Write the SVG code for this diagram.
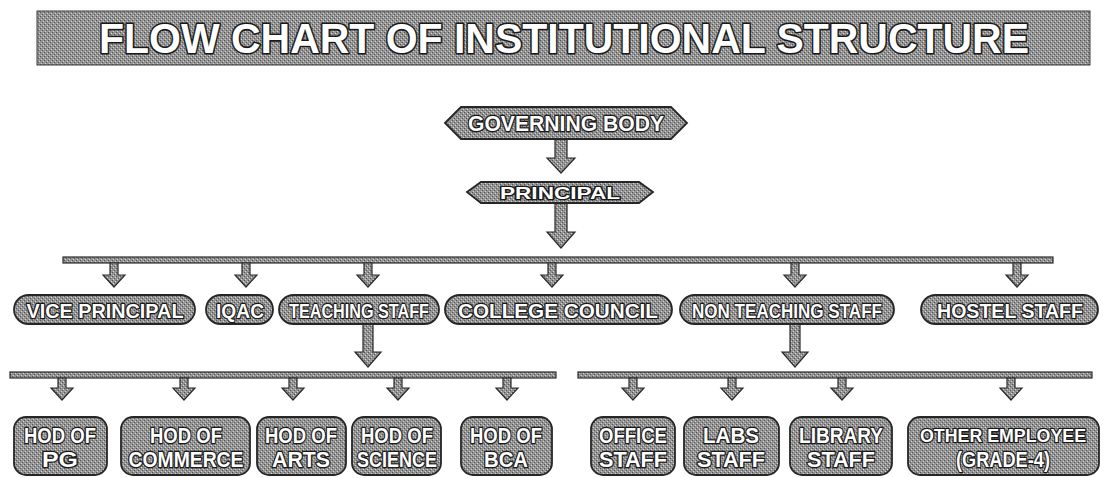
<svg xmlns="http://www.w3.org/2000/svg" width="1104" height="478" viewBox="0 0 1104 478">
  <defs>
    <!-- halftone grey used for every filled shape -->
    <pattern id="tone" patternUnits="userSpaceOnUse" width="4" height="4">
      <rect width="4" height="4" fill="#939393"/>
      <rect x="0" y="0" width="1" height="1" fill="#555555"/>
      <rect x="2" y="2" width="1" height="1" fill="#555555"/>
      <rect x="1" y="3" width="1" height="1" fill="#d4d4d4"/>
      <rect x="3" y="1" width="1" height="1" fill="#d4d4d4"/>
    </pattern>
    <style>
      .shape { fill: url(#tone); stroke: #262626; stroke-width: 1.8; }
      .bar { fill: url(#tone); stroke: #2a2a2a; stroke-width: 1.2; }
      .arrow { fill: url(#tone); stroke: #2a2a2a; stroke-width: 1.2; stroke-linejoin: miter; }
      .lbl { font-family: "Liberation Sans Narrow", "Liberation Sans", Arial, sans-serif; font-weight: bold;
             fill: #ffffff; stroke: #1a1a1a; stroke-width: 2.6; paint-order: stroke; stroke-linejoin: round;
             text-anchor: middle; }
      .title { font-size: 43px; stroke-width: 3.2; }
      .hex { font-size: 22px; }
      .small { font-size: 17px; }
      .pill { font-size: 21px; }
      .box { font-size: 22px; }
      .boxnarrow { font-size: 19px; }
    </style>
  </defs>

  <rect width="1104" height="478" fill="#ffffff"/>

  <!-- heading band -->
  <g id="title">
    <rect x="37" y="11" width="1053" height="54" fill="url(#tone)" stroke="#3a3a3a" stroke-width="1"/>
    <text class="lbl title" x="564" y="53" textLength="930" lengthAdjust="spacingAndGlyphs">FLOW CHART OF INSTITUTIONAL STRUCTURE</text>
  </g>

  <!-- connectors: bars and block arrows -->
  <g id="connectors">
    <!-- governing body -> principal -->
    <path class="arrow" d="M555,139 H567 V158 H575 L561,173 L547,158 H555 Z"/>
    <!-- principal -> main bar -->
    <path class="arrow" d="M555,203 H567 V232 H575 L561,248 L547,232 H555 Z"/>
    <!-- main distribution bar -->
    <rect class="bar" x="63" y="257" width="990" height="6"/>
    <path class="arrow" d="M110,263 H118 V275 H125 L114,287 L103,275 H110 Z"/>
    <path class="arrow" d="M242,263 H250 V275 H257 L246,287 L235,275 H242 Z"/>
    <path class="arrow" d="M364,263 H372 V275 H379 L368,287 L357,275 H364 Z"/>
    <path class="arrow" d="M548,263 H556 V275 H563 L552,287 L541,275 H548 Z"/>
    <path class="arrow" d="M791,263 H799 V275 H806 L795,287 L784,275 H791 Z"/>
    <path class="arrow" d="M1013,263 H1021 V275 H1028 L1017,287 L1006,275 H1013 Z"/>
    <!-- teaching staff -> departments -->
    <path class="arrow" d="M363,324 H373 V352 H381 L368,367 L355,352 H363 Z"/>
    <rect class="bar" x="10" y="372" width="546" height="6"/>
    <path class="arrow" d="M58,378 H66 V388 H73 L62,400 L51,388 H58 Z"/>
    <path class="arrow" d="M180,378 H188 V388 H195 L184,400 L173,388 H180 Z"/>
    <path class="arrow" d="M289,378 H297 V388 H304 L293,400 L282,388 H289 Z"/>
    <path class="arrow" d="M394,378 H402 V388 H409 L398,400 L387,388 H394 Z"/>
    <path class="arrow" d="M503,378 H511 V388 H518 L507,400 L496,388 H503 Z"/>
    <!-- non teaching staff -> support units -->
    <path class="arrow" d="M790,324 H800 V352 H808 L795,367 L782,352 H790 Z"/>
    <rect class="bar" x="578" y="372" width="514" height="6"/>
    <path class="arrow" d="M629,378 H637 V388 H644 L633,400 L622,388 H629 Z"/>
    <path class="arrow" d="M728,378 H736 V388 H743 L732,400 L721,388 H728 Z"/>
    <path class="arrow" d="M838,378 H846 V388 H853 L842,400 L831,388 H838 Z"/>
    <path class="arrow" d="M1007,378 H1015 V388 H1022 L1011,400 L1000,388 H1007 Z"/>
  </g>

  <!-- top of the hierarchy -->
  <g id="governing-body">
    <polygon class="shape" points="445,123 461,107 671,107 687,123 671,139 461,139"/>
    <text class="lbl hex" x="566" y="131" textLength="196" lengthAdjust="spacingAndGlyphs">GOVERNING BODY</text>
  </g>
  <g id="principal">
    <polygon class="shape" points="467,192 481,182 639,182 653,192 639,203 481,203"/>
    <text class="lbl small" x="560" y="199" textLength="120" lengthAdjust="spacingAndGlyphs">PRINCIPAL</text>
  </g>

  <!-- second level -->
  <g id="vice-principal">
    <rect class="shape" x="14" y="295" width="181" height="29" rx="14.5"/>
    <text class="lbl pill" x="105" y="318" textLength="157" lengthAdjust="spacingAndGlyphs">VICE PRINCIPAL</text>
  </g>
  <g id="iqac">
    <rect class="shape" x="206" y="295" width="67" height="29" rx="14.5"/>
    <text class="lbl pill" x="240" y="318" textLength="48" lengthAdjust="spacingAndGlyphs">IQAC</text>
  </g>
  <g id="teaching-staff">
    <rect class="shape" x="279" y="295" width="160" height="29" rx="14.5"/>
    <text class="lbl pill" x="359" y="318" textLength="140" lengthAdjust="spacingAndGlyphs">TEACHING STAFF</text>
  </g>
  <g id="college-council">
    <rect class="shape" x="445" y="295" width="227" height="29" rx="14.5"/>
    <text class="lbl pill" x="558" y="318" textLength="200" lengthAdjust="spacingAndGlyphs">COLLEGE COUNCIL</text>
  </g>
  <g id="non-teaching-staff">
    <rect class="shape" x="680" y="295" width="214" height="29" rx="14.5"/>
    <text class="lbl pill" x="787" y="318" textLength="190" lengthAdjust="spacingAndGlyphs">NON TEACHING STAFF</text>
  </g>
  <g id="hostel-staff">
    <rect class="shape" x="921" y="295" width="177" height="29" rx="14.5"/>
    <text class="lbl pill" x="1010" y="318" textLength="146" lengthAdjust="spacingAndGlyphs">HOSTEL STAFF</text>
  </g>

  <!-- departments -->
  <g id="hod-pg">
    <rect class="shape" x="14" y="417" width="93" height="58" rx="12"/>
    <text class="lbl box" x="60" y="443" textLength="72" lengthAdjust="spacingAndGlyphs">HOD OF</text>
    <text class="lbl box" x="60" y="467" textLength="36" lengthAdjust="spacingAndGlyphs">PG</text>
  </g>
  <g id="hod-commerce">
    <rect class="shape" x="121" y="417" width="129" height="58" rx="12"/>
    <text class="lbl box" x="186" y="443" textLength="72" lengthAdjust="spacingAndGlyphs">HOD OF</text>
    <text class="lbl box" x="186" y="467" textLength="115" lengthAdjust="spacingAndGlyphs">COMMERCE</text>
  </g>
  <g id="hod-arts">
    <rect class="shape" x="257" y="417" width="89" height="58" rx="12"/>
    <text class="lbl box" x="301" y="443" textLength="72" lengthAdjust="spacingAndGlyphs">HOD OF</text>
    <text class="lbl box" x="301" y="467" textLength="58" lengthAdjust="spacingAndGlyphs">ARTS</text>
  </g>
  <g id="hod-science">
    <rect class="shape" x="352" y="417" width="89" height="58" rx="12"/>
    <text class="lbl box" x="397" y="443" textLength="72" lengthAdjust="spacingAndGlyphs">HOD OF</text>
    <text class="lbl box" x="397" y="467" textLength="80" lengthAdjust="spacingAndGlyphs">SCIENCE</text>
  </g>
  <g id="hod-bca">
    <rect class="shape" x="461" y="417" width="91" height="58" rx="12"/>
    <text class="lbl box" x="506" y="443" textLength="72" lengthAdjust="spacingAndGlyphs">HOD OF</text>
    <text class="lbl box" x="506" y="467" textLength="44" lengthAdjust="spacingAndGlyphs">BCA</text>
  </g>

  <!-- support units -->
  <g id="office-staff">
    <rect class="shape" x="591" y="417" width="84" height="58" rx="12"/>
    <text class="lbl box" x="633" y="443" textLength="68" lengthAdjust="spacingAndGlyphs">OFFICE</text>
    <text class="lbl box" x="633" y="467" textLength="68" lengthAdjust="spacingAndGlyphs">STAFF</text>
  </g>
  <g id="labs-staff">
    <rect class="shape" x="684" y="417" width="95" height="58" rx="12"/>
    <text class="lbl box" x="731" y="443" textLength="56" lengthAdjust="spacingAndGlyphs">LABS</text>
    <text class="lbl box" x="731" y="467" textLength="68" lengthAdjust="spacingAndGlyphs">STAFF</text>
  </g>
  <g id="library-staff">
    <rect class="shape" x="790" y="417" width="102" height="58" rx="12"/>
    <text class="lbl box" x="841" y="443" textLength="84" lengthAdjust="spacingAndGlyphs">LIBRARY</text>
    <text class="lbl box" x="841" y="467" textLength="68" lengthAdjust="spacingAndGlyphs">STAFF</text>
  </g>
  <g id="other-employee">
    <rect class="shape" x="908" y="417" width="191" height="58" rx="12"/>
    <text class="lbl boxnarrow" x="1003" y="442" textLength="166" lengthAdjust="spacingAndGlyphs">OTHER EMPLOYEE</text>
    <text class="lbl box" x="1003" y="467" textLength="94" lengthAdjust="spacingAndGlyphs">(GRADE-4)</text>
  </g>
</svg>
